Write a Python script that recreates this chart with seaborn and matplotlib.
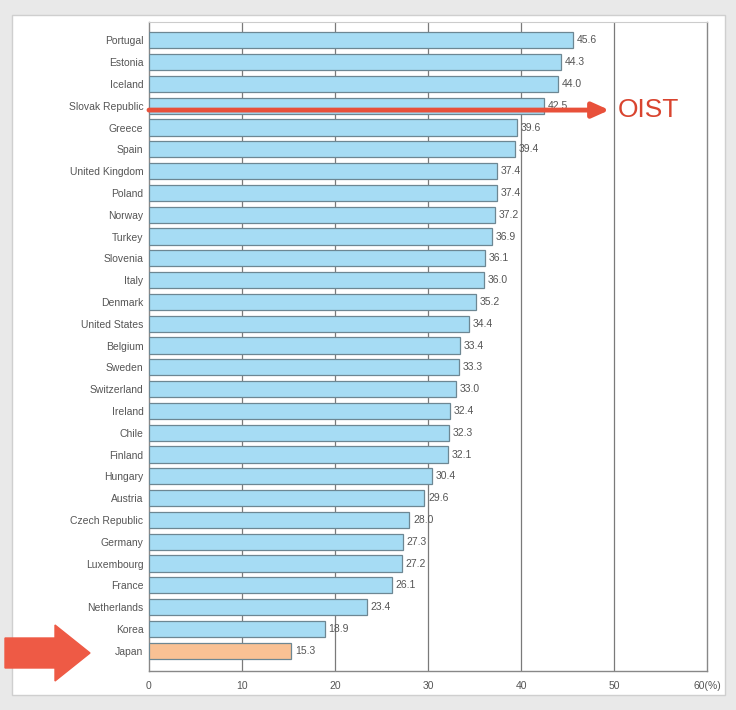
import numpy as np
import pandas as pd
import seaborn as sns
import matplotlib.pyplot as plt
from matplotlib.patches import FancyArrow, Rectangle

countries = ['Portugal', 'Estonia', 'Iceland', 'Slovak Republic', 'Greece', 'Spain',
             'United Kingdom', 'Poland', 'Norway', 'Turkey', 'Slovenia', 'Italy',
             'Denmark', 'United States', 'Belgium', 'Sweden', 'Switzerland', 'Ireland',
             'Chile', 'Finland', 'Hungary', 'Austria', 'Czech Republic', 'Germany',
             'Luxembourg', 'France', 'Netherlands', 'Korea', 'Japan']
values = [45.6, 44.3, 44.0, 42.5, 39.6, 39.4, 37.4, 37.4, 37.2, 36.9, 36.1, 36.0,
          35.2, 34.4, 33.4, 33.3, 33.0, 32.4, 32.3, 32.1, 30.4, 29.6, 28.0, 27.3,
          27.2, 26.1, 23.4, 18.9, 15.3]
xticks = [0, 10, 20, 30, 40, 50, 60]
xtick_labels = ['0', '10', '20', '30', '40', '50', '60(%)']

df = pd.DataFrame({'Country': countries, 'Value': values})
df['Group'] = ['Japan' if c == 'Japan' else 'Other' for c in countries]

sns.set_style('white')
plt.rcParams['font.family'] = ['Liberation Sans', 'DejaVu Sans']

fig = plt.figure(figsize=(7.36, 7.10), dpi=100)
fig.patch.set_facecolor('#e9e9e9')
# white panel behind the chart
fig.patches.append(Rectangle((12 / 736, 15 / 710), 713 / 736, 680 / 710,
                             transform=fig.transFigure, facecolor='white',
                             edgecolor='#cfcfcf', linewidth=1, zorder=-5))

ax = fig.add_axes([149 / 736, 1 - 671 / 710, 558 / 736, (671 - 22) / 710])
ax.set_zorder(1)
ax.set_facecolor('white')

sns.barplot(data=df, x='Value', y='Country', hue='Group',
            palette={'Other': '#a6dcf4', 'Japan': '#f9c194'}, saturation=1,
            dodge=False, legend=False, width=0.74, edgecolor='#6d8793',
            linewidth=0.9, ax=ax, zorder=3)

for i, v in enumerate(values):
    ax.text(v + 0.4, i, f'{v:.1f}', va='center', ha='left', fontsize=7.5,
            color='#555555', zorder=4)

ax.set_xlim(0, 60)
ax.set_ylim(len(countries) - 1 + 0.93, -0.84)
ax.set_xticks(xticks)
ax.set_xticklabels(xtick_labels, fontsize=7.5, color='#555555')
ax.tick_params(axis='y', labelsize=7.5, colors='#555555', length=0, pad=4)
ax.tick_params(axis='x', length=3, color='#777777', pad=4)
ax.set_xlabel('')
ax.set_ylabel('')
for x in xticks[1:-1]:
    ax.axvline(x, color='#7a7a7a', linewidth=0.9, zorder=1)
for s in ['left', 'bottom', 'right']:
    ax.spines[s].set_color('#888888')
    ax.spines[s].set_linewidth(1.0)
ax.spines['top'].set_color('#cccccc')

# red arrow pointing at OIST
ax.annotate('', xy=(49.5, 3.2), xytext=(0, 3.2),
            arrowprops=dict(arrowstyle='-|>,head_length=1.0,head_width=0.45',
                            color='#e8503a', linewidth=3.5, shrinkA=0, shrinkB=0),
            zorder=6, annotation_clip=False)
ax.text(50.4, 3.2, 'OIST', color='#d9442f', fontsize=19, va='center', ha='left',
        family=['Liberation Sans', 'DejaVu Sans'], zorder=6, clip_on=False)

# block arrow pointing at Japan
fig.patches.append(FancyArrow(5 / 736, 1 - 653 / 710, 50 / 736, 0,
                              width=30 / 710, head_width=56 / 710,
                              head_length=35 / 736, length_includes_head=False,
                              transform=fig.transFigure, color='#ee5a45',
                              zorder=5))

fig.savefig('out.png', dpi=100)
